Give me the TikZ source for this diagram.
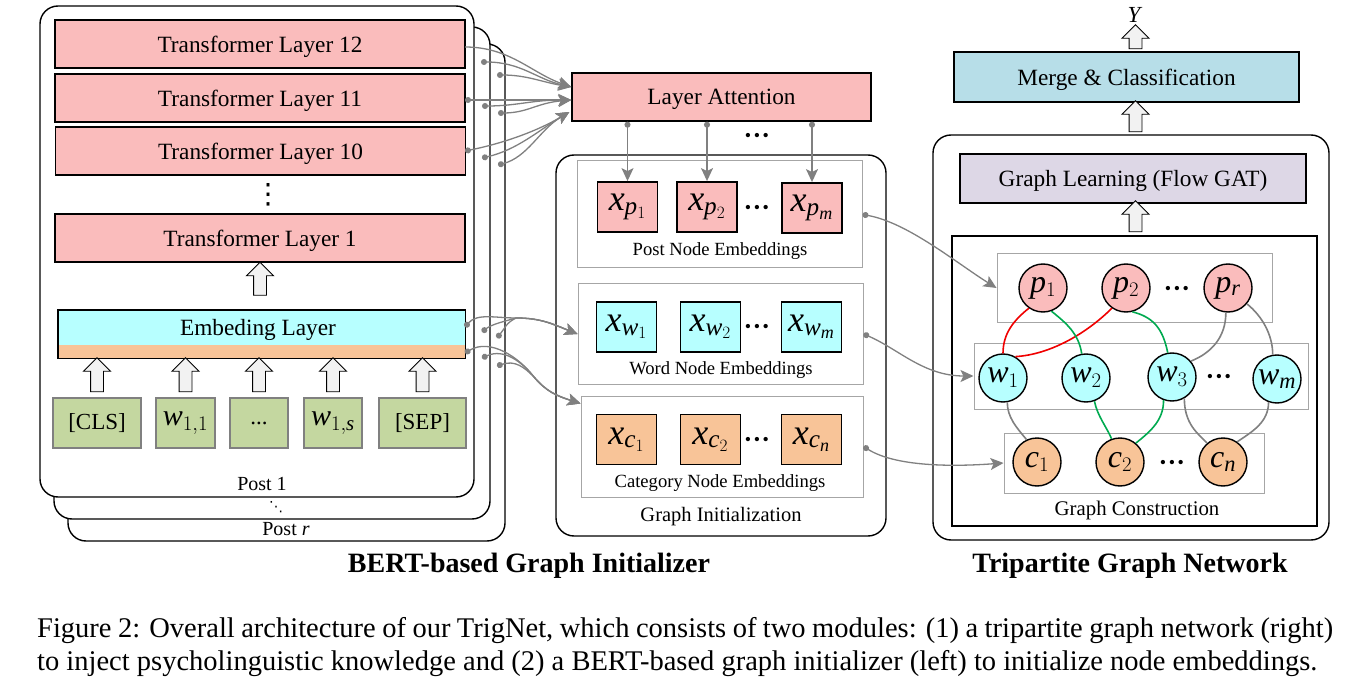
\documentclass[tikz,border=0pt]{standalone}
\usepackage{fontspec}
\setmainfont{Liberation Serif}
\newfontfamily\tgSym{DejaVu Sans}
\usetikzlibrary{arrows.meta,shapes.arrows,calc}
\definecolor{layerpink}{RGB}{250,188,188}
\definecolor{embcyan}{RGB}{183,255,255}
\definecolor{catorange}{RGB}{248,196,152}
\definecolor{tokgreen}{RGB}{196,215,160}
\definecolor{mergeblue}{RGB}{183,222,232}
\definecolor{learnlilac}{RGB}{221,215,230}
\definecolor{arrowfill}{RGB}{242,242,242}
\definecolor{linkgray}{RGB}{128,128,128}
\definecolor{edgegreen}{RGB}{0,170,80}
\definecolor{edgered}{RGB}{240,0,0}
\newcommand{\tgFont}[1]{\fontsize{#1}{#1}\selectfont}
\newcommand{\tgEmb}[2]{$\mathit{x}_{\mathit{#1}_{#2}}$}
\newcommand{\tgVar}[2]{$\mathit{#1}_{#2}$}
\newcommand{\tgDots}{\tgFont{18}\textbullet\kern2.6pt\textbullet\kern2.6pt\textbullet}
\tikzset{
  layerbox/.style={draw, line width=1.4pt, fill=layerpink, minimum width=410pt, minimum height=48pt, inner sep=0pt, text depth=0pt, font=\tgFont{23.3}},
  postbox/.style={draw, line width=1.4pt, fill=white, rounded corners=18pt, inner sep=0pt},
  tokbox/.style={draw=linkgray, line width=1.1pt, fill=tokgreen, minimum height=50pt, inner sep=0pt, font=\tgFont{23}},
  embbox/.style={draw, line width=1.8pt, minimum width=60pt, minimum height=50pt, inner sep=0pt, font=\tgFont{36}},
  grouprect/.style={draw=linkgray!70, line width=1pt, inner sep=0pt},
  gnode/.style={circle, draw, line width=1.4pt, minimum size=48pt, inner sep=0pt, font=\tgFont{32}},
  blockup/.style={single arrow, draw, fill=arrowfill, line width=0.9pt, shape border rotate=90, inner sep=6pt, single arrow head extend=7pt},
  link/.style={linkgray, line width=1.3pt, -{Stealth[length=13pt,width=12pt,inset=3pt]}},
  dotlink/.style={linkgray, line width=1.3pt, {Circle[length=6pt]}-{Stealth[length=13pt,width=12pt,inset=3pt]}},
  redge/.style={edgered, line width=1.6pt},
  gedge/.style={edgegreen, line width=1.6pt},
  kedge/.style={linkgray, line width=1.6pt},
  boxlabel/.style={inner sep=0pt, font=\tgFont{20}},
}
\begin{document}
\begin{tikzpicture}[x=1pt,y=-1pt]
\useasboundingbox (0,0) rectangle (1350,679);
\node[postbox, minimum width=437pt, minimum height=497pt] (postr) at (286.5,292.5) {};
\node[postbox, minimum width=436pt, minimum height=492pt] (post2) at (272,273) {};
\node[postbox, minimum width=434pt, minimum height=491pt] (post1) at (257,251.5) {};
\node[boxlabel] (post1lab) at (262,484) {Post 1};
\node[boxlabel, font=\tgSym\tgFont{14}] (postdots) at (276,507) {⋱};
\node[boxlabel] (postrlab) at (286,529) {Post \textit{r}};
\node[layerbox] (tl12) at (260,44) {Transformer Layer 12};
\node[layerbox] (tl11) at (260,98) {Transformer Layer 11};
\node[layerbox] (tl10) at (260.5,151) {Transformer Layer 10};
\node[boxlabel, font=\tgSym\tgFont{28}] (tlvdots) at (268,195) {⋮};
\node[layerbox] (tl1) at (260,238) {Transformer Layer 1};
\node[blockup, minimum height=33pt] (arrtl) at (260,282) {};
\node[fill=embcyan, minimum width=407pt, minimum height=35pt, inner sep=0pt] (emb) at (261.5,327.5) {};
\node[fill=catorange, minimum width=407pt, minimum height=13pt, inner sep=0pt] (embcat) at (261.5,351.5) {};
\draw[line width=1.4pt] (emb.north west) rectangle (embcat.south east);
\node[boxlabel, font=\tgFont{23.3}] (emblab) at (258,330) {Embeding Layer};
\node[tokbox, minimum width=88pt] (tcls) at (97,423) {[CLS]};
\node[tokbox, minimum width=59pt, font=\tgFont{30}] (tw11) at (185.5,423) {$\mathit{w}_{1,1}$};
\node[tokbox, minimum width=58pt] (tdots) at (259,423) {...};
\node[tokbox, minimum width=58pt, font=\tgFont{30}] (tw1s) at (333,423) {$\mathit{w}_{1,\mathit{s}}$};
\node[tokbox, minimum width=87pt] (tsep) at (422.5,423) {[SEP]};
\node[blockup, minimum height=34pt] (acls) at (tcls.north |- 0,378) {};
\node[blockup, minimum height=34pt] (aw11) at (tw11.north |- 0,378) {};
\node[blockup, minimum height=34pt] (adots) at (tdots.north |- 0,378) {};
\node[blockup, minimum height=34pt] (aw1s) at (tw1s.north |- 0,378) {};
\node[blockup, minimum height=34pt] (asep) at (tsep.north |- 0,378) {};
\node[layerbox, minimum width=299pt] (latt) at (721.5,97) {Layer Attention};
\node[boxlabel] (ladots) at (757,137) {\tgDots};
\node[postbox, minimum width=330pt, minimum height=381pt] (ginit) at (721,345.5) {};
\node[grouprect, minimum width=285pt, minimum height=107pt] (pembrow) at (719.5,214.5) {};
\node[grouprect, minimum width=285pt, minimum height=100pt] (wembrow) at (720.5,334) {};
\node[grouprect, minimum width=282pt, minimum height=101pt] (cembrow) at (722,446.5) {};
\node[embbox, fill=layerpink] (xp1) at (627.5,207) {\tgEmb{p}{1}};
\node[embbox, fill=layerpink] (xp2) at (707,207) {\tgEmb{p}{2}};
\node[boxlabel] (xpdots) at (757,209) {\tgDots};
\node[embbox, fill=layerpink] (xpm) at (812,208) {\tgEmb{p}{\mathit{m}}};
\node[boxlabel, font=\tgFont{18.6}] (pemblab) at (720,251) {Post Node Embeddings};
\node[embbox, fill=embcyan] (xw1) at (626.5,327) {\tgEmb{w}{1}};
\node[embbox, fill=embcyan] (xw2) at (710.5,327) {\tgEmb{w}{2}};
\node[boxlabel] (xwdots) at (757,328) {\tgDots};
\node[embbox, fill=embcyan] (xwm) at (811.5,327) {\tgEmb{w}{\mathit{m}}};
\node[boxlabel, font=\tgFont{18.6}] (wemblab) at (721,370) {Word Node Embeddings};
\node[embbox, fill=catorange] (xc1) at (626.5,439.5) {\tgEmb{c}{1}};
\node[embbox, fill=catorange] (xc2) at (710.5,439.5) {\tgEmb{c}{2}};
\node[boxlabel] (xcdots) at (757,441) {\tgDots};
\node[embbox, fill=catorange] (xcn) at (811.5,439.5) {\tgEmb{c}{\mathit{n}}};
\node[boxlabel, font=\tgFont{18.6}] (cemblab) at (720,483) {Category Node Embeddings};
\node[boxlabel, font=\tgFont{20.5}] (ginitlab) at (721,517) {Graph Initialization};
\node[boxlabel, font=\tgFont{23}] (yout) at (1135,15) {\textit{Y}};
\node[blockup, minimum height=24pt] (ay) at (1135.5,40) {};
\node[layerbox, fill=mergeblue, minimum width=345pt, minimum height=50pt] (merge) at (1126.5,77) {Merge \& Classification};
\node[blockup, minimum height=31pt] (amerge) at (1135.5,119.5) {};
\node[postbox, minimum width=396pt, minimum height=405pt] (tgn) at (1131,337.5) {};
\node[layerbox, fill=learnlilac, minimum width=346pt, minimum height=49pt] (glearn) at (1133,178.5) {Graph Learning (Flow GAT)};
\node[blockup, minimum height=31pt] (aglearn) at (1135.5,219.5) {};
\node[draw, line width=1.3pt, minimum width=365pt, minimum height=290pt, inner sep=0pt] (gcons) at (1134.5,381) {};
\node[boxlabel, font=\tgFont{20.8}] (gconslab) at (1137,510) {Graph Construction};
\node[grouprect, minimum width=275pt, minimum height=68pt] (pgrp) at (1134.5,288) {};
\node[grouprect, minimum width=334pt, minimum height=66pt] (wgrp) at (1141,376) {};
\node[grouprect, minimum width=260pt, minimum height=60pt] (cgrp) at (1134,463) {};
\node[gnode, fill=layerpink] (p1) at (1043,288) {\tgVar{p}{1}};
\node[gnode, fill=layerpink] (p2) at (1126,288) {\tgVar{p}{2}};
\node[boxlabel] (pdots) at (1177,290) {\tgDots};
\node[gnode, fill=layerpink] (pr) at (1228,288) {\tgVar{p}{\mathit{r}}};
\node[gnode, fill=embcyan] (w1) at (1003,378) {\tgVar{w}{1}};
\node[gnode, fill=embcyan] (w2) at (1086,378) {\tgVar{w}{2}};
\node[gnode, fill=embcyan] (w3) at (1172,377) {\tgVar{w}{3}};
\node[boxlabel] (wdots) at (1219,378) {\tgDots};
\node[gnode, fill=embcyan] (wm) at (1277,379) {\tgVar{w}{\mathit{m}}};
\node[gnode, fill=catorange] (c1) at (1037,462) {\tgVar{c}{1}};
\node[gnode, fill=catorange] (c2) at (1120,462) {\tgVar{c}{2}};
\node[boxlabel] (cdots) at (1172,464) {\tgDots};
\node[gnode, fill=catorange] (cn) at (1223,462) {\tgVar{c}{\mathit{n}}};
\draw[redge] (p1.235) .. controls +(-15,12) and +(0,-20) .. (w1.north);
\draw[redge] (p2.235) .. controls +(-25,25) and +(35,-2) .. (w1.60);
\draw[gedge] (p1.290) .. controls +(15,12) and +(-3,-20) .. (w2.100);
\draw[gedge] (p2.285) .. controls +(20,5) and +(-5,-25) .. (w3.100);
\draw[kedge] (pr.265) .. controls +(0,25) and +(20,-8) .. (w3.40);
\draw[kedge] (pr.320) .. controls +(15,12) and +(0,-20) .. (wm.100);
\draw[kedge] (w1.280) .. controls +(0,15) and +(-10,-12) .. (c1.115);
\draw[gedge] (w2.290) .. controls +(3,15) and +(-5,-12) .. (c2.110);
\draw[gedge] (w3.250) .. controls +(0,20) and +(15,-12) .. (c2.50);
\draw[kedge] (w3.300) .. controls +(0,25) and +(-10,-10) .. (cn.130);
\draw[kedge] (wm.250) .. controls +(0,20) and +(15,-10) .. (cn.55);
\coordinate (t12a) at (465,47);
\coordinate (t12b) at (481,62);
\coordinate (t12c) at (497,75);
\coordinate (t11a) at (465,100);
\coordinate (t11b) at (482,106);
\coordinate (t11c) at (498,113);
\coordinate (t10a) at (465,151);
\coordinate (t10b) at (482,158);
\coordinate (t10c) at (498,165);
\coordinate (la12) at ($(latt.west)+(0,-10)$);
\coordinate (la11) at ($(latt.west)+(0,3)$);
\coordinate (la10) at ($(latt.west)+(-2,15)$);
\draw[link] (t12a) .. controls +(45,0) and +(-40,-14) .. (la12);
\draw[dotlink] (t12b) .. controls +(40,0) and +(-35,-8) .. (la12);
\draw[dotlink] (t12c) .. controls +(30,0) and +(-30,-5) .. (la12);
\draw[dotlink] (t11a) .. controls +(40,0) and +(-40,0) .. (la11);
\draw[dotlink] (t11b) .. controls +(35,0) and +(-40,0) .. (la11);
\draw[dotlink] (t11c) .. controls +(30,0) and +(-35,3) .. (la11);
\draw[dotlink] (t10a) .. controls +(40,-8) and +(-30,18) .. (la10);
\draw[dotlink] (t10b) .. controls +(35,-8) and +(-30,18) .. (la10);
\draw[dotlink] (t10c) .. controls +(30,-8) and +(-30,18) .. (la10);
\coordinate (e1) at (465,327);
\coordinate (e2) at (482,332);
\coordinate (e3) at (497,338);
\coordinate (ejoin) at (516,318);
\coordinate (o1) at (465,353);
\coordinate (o2) at (482,358);
\coordinate (o3) at (497,366);
\coordinate (ojoin) at (534,377);
\coordinate (catin) at ($(cembrow.north west)+(0,8)$);
\draw[dotlink] (e1) .. controls +(12,-14) and +(-20,0) .. (ejoin) .. controls +(25,0) and +(-25,-10) .. (wembrow.west);
\draw[dotlink] (e2) .. controls +(10,-8) and +(-10,3) .. (ejoin) .. controls +(25,0) and +(-25,-10) .. (wembrow.west);
\draw[dotlink] (e3) .. controls +(8,-10) and +(-10,5) .. (ejoin) .. controls +(25,0) and +(-25,-10) .. (wembrow.west);
\draw[dotlink] (o1) .. controls +(25,-15) and +(-15,-20) .. (ojoin) .. controls +(12,14) and +(-25,-8) .. (catin);
\draw[dotlink] (o2) .. controls +(22,-10) and +(-12,-15) .. (ojoin) .. controls +(12,14) and +(-25,-8) .. (catin);
\draw[dotlink] (o3) .. controls +(18,-6) and +(-10,-10) .. (ojoin) .. controls +(12,14) and +(-25,-8) .. (catin);
\draw[dotlink] (xp1.north |- latt.south) -- (xp1.north);
\draw[dotlink] (xp2.north |- latt.south) -- (xp2.north);
\draw[dotlink] (xpm.north |- latt.south) -- (xpm.north);
\draw[dotlink] (pembrow.east) .. controls +(45,8) and +(-40,-25) .. (pgrp.west);
\draw[dotlink] (wembrow.east) .. controls +(35,15) and +(-50,0) .. (wgrp.west);
\draw[dotlink] (cembrow.east) .. controls +(35,22) and +(-40,3) .. (cgrp.west);
\node[anchor=base, inner sep=0pt, font=\tgFont{28}\bfseries] (ltitle) at (529,572) {BERT-based Graph Initializer};
\node[anchor=base, inner sep=0pt, font=\tgFont{28}\bfseries] (rtitle) at (1130,572) {Tripartite Graph Network};
\node[anchor=base west, inner sep=0pt, font=\tgFont{28.5}] (cap1) at (37,637) {\makebox[1296pt][s]{Figure 2: Overall architecture of our TrigNet, which consists of two modules: (1) a tripartite graph network (right)}};
\node[anchor=base west, inner sep=0pt, font=\tgFont{28.5}] (cap2) at (37,670) {to inject psycholinguistic knowledge and (2) a BERT-based graph initializer (left) to initialize node embeddings.};
\end{tikzpicture}
\end{document}
